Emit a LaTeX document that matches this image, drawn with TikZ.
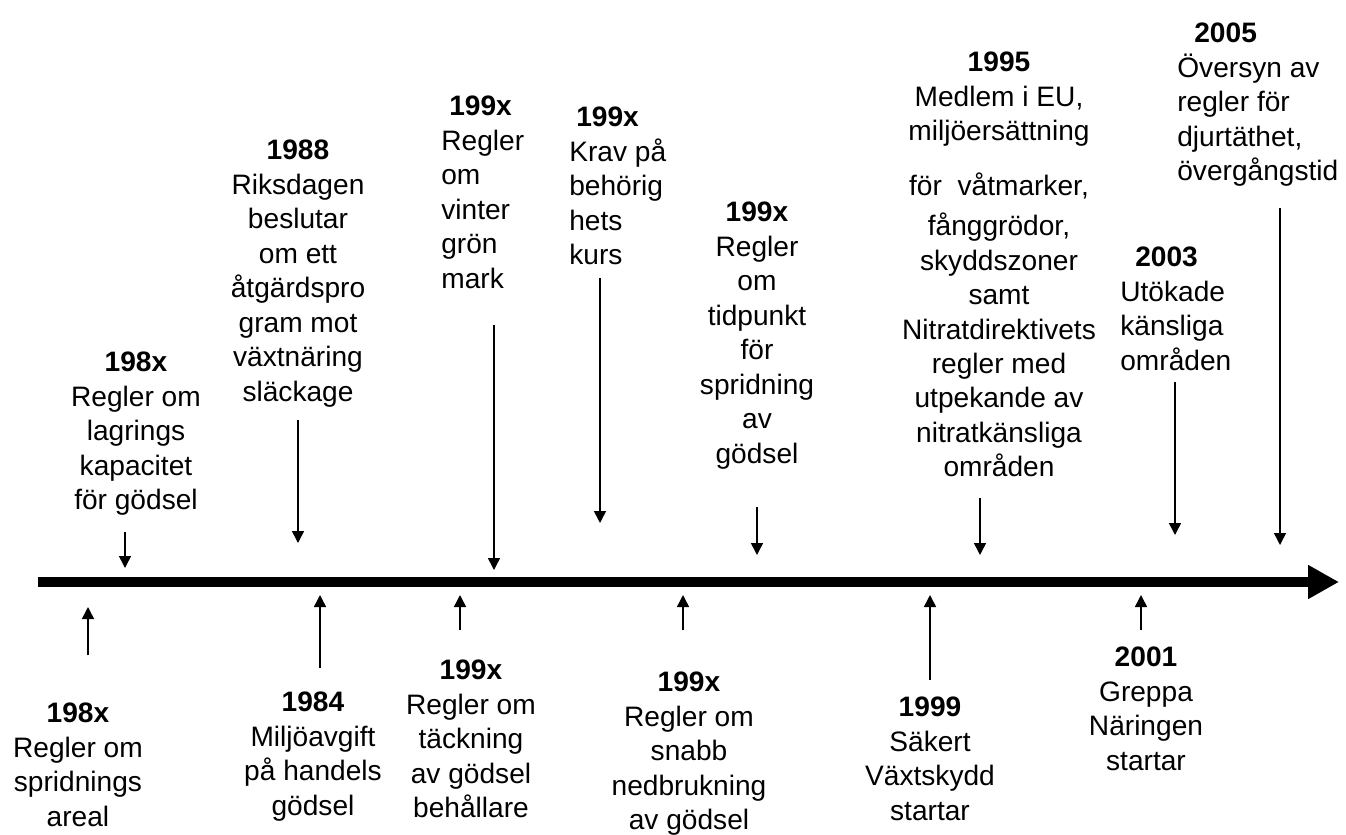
\documentclass[tikz,border=0pt]{standalone}
\usepackage{fontspec}
\setmainfont{Liberation Sans}
\usepackage{tikz}
\usetikzlibrary{arrows.meta}

\begin{document}
\begin{tikzpicture}[x=0.02cm,y=-0.02cm]
	\useasboundingbox (0,0) rectangle (1346,835);

	\begin{scope}[every node/.style={inner sep=0, anchor=north, align=center, font=\fontsize{16}{19.6}\selectfont}]
	    % above the time line
	    \node (A) at (136,352) {\textbf{198x}\\Regler om\\lagrings\\kapacitet\\för gödsel};
	    \node (B) at (298,140) {\textbf{1988}\\Riksdagen\\beslutar\\om ett\\åtgärdspro\\gram mot\\växtnäring\\släckage};
	    \node (C) [anchor=north west, align=left] at (441,96) {\hspace*{0.16cm}\textbf{199x}\\Regler\\om\\vinter\\grön\\mark};
	    \node (D) [anchor=north west, align=left] at (569,107) {\hspace*{0.14cm}\textbf{199x}\\Krav på\\behörig\\hets\\kurs};
	    \node (E) at (757,202) {\textbf{199x}\\Regler\\om\\tidpunkt\\för\\spridning\\av\\gödsel};
	    \node (F) at (999,52) {\textbf{1995}\\Medlem i EU,\\miljöersättning\\[0.4cm]för \ våtmarker,\\[0.12cm]fånggrödor,\\skyddszoner\\samt\\Nitratdirektivets\\regler med\\utpekande av\\nitratkänsliga\\områden};
	    \node (G) [anchor=north west, align=left] at (1120,247) {\hspace*{0.3cm}\textbf{2003}\\Utökade\\känsliga\\områden};
	    \node (H) [anchor=north west, align=left] at (1177,23) {\hspace*{0.34cm}\textbf{2005}\\Översyn av\\regler för\\djurtäthet,\\övergångstid};
	    % below the time line
	    \node (I) at (78,703) {\textbf{198x}\\Regler om\\spridnings\\areal};
	    \node (J) at (313,692) {\textbf{1984}\\Miljöavgift\\på handels\\gödsel};
	    \node (K) at (471,660) {\textbf{199x}\\Regler om\\täckning\\av gödsel\\behållare};
	    \node (L) at (689,672) {\textbf{199x}\\Regler om\\snabb\\nedbrukning\\av gödsel};
	    \node (M) at (930,697) {\textbf{1999}\\Säkert\\Växtskydd\\startar};
	    \node (N) at (1146,647) {\textbf{2001}\\Greppa\\Näringen\\startar};
	\end{scope}

	% time line
	\coordinate (start) at (38,582);
	\coordinate (end) at (1339,582);
	\draw [line width=0.2cm, -{Triangle[length=0.62cm,width=0.64cm]}] (start) -- (end);

	% arrow ends
	\coordinate (A1) at (125,532);  \coordinate (A2) at (125,568);
	\coordinate (B1) at (298,420);  \coordinate (B2) at (298,543);
	\coordinate (C1) at (494,325);  \coordinate (C2) at (494,570);
	\coordinate (D1) at (600,278);  \coordinate (D2) at (600,523);
	\coordinate (E1) at (757,507);  \coordinate (E2) at (757,555);
	\coordinate (F1) at (980,498);  \coordinate (F2) at (980,555);
	\coordinate (G1) at (1175,382); \coordinate (G2) at (1175,535);
	\coordinate (H1) at (1280,208); \coordinate (H2) at (1280,545);
	\coordinate (I1) at (88,655);   \coordinate (I2) at (88,607);
	\coordinate (J1) at (320,668);  \coordinate (J2) at (320,595);
	\coordinate (K1) at (460,630);  \coordinate (K2) at (460,595);
	\coordinate (L1) at (683,630);  \coordinate (L2) at (683,595);
	\coordinate (M1) at (930,680);  \coordinate (M2) at (930,595);
	\coordinate (N1) at (1141,630); \coordinate (N2) at (1141,595);

	\begin{scope}[>={Triangle[length=0.24cm,width=0.24cm]}, line width=0.03cm]
	    \draw [->] (A1) -- (A2);
	    \draw [->] (B1) -- (B2);
	    \draw [->] (C1) -- (C2);
	    \draw [->] (D1) -- (D2);
	    \draw [->] (E1) -- (E2);
	    \draw [->] (F1) -- (F2);
	    \draw [->] (G1) -- (G2);
	    \draw [->] (H1) -- (H2);
	    \draw [->] (I1) -- (I2);
	    \draw [->] (J1) -- (J2);
	    \draw [->] (K1) -- (K2);
	    \draw [->] (L1) -- (L2);
	    \draw [->] (M1) -- (M2);
	    \draw [->] (N1) -- (N2);
	\end{scope}
\end{tikzpicture}
\end{document}
